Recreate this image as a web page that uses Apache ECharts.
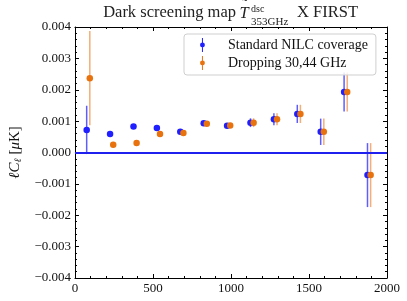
<!DOCTYPE html>
<html>
<head>
<meta charset="utf-8">
<script src="https://cdn.jsdelivr.net/npm/echarts@6/dist/echarts.min.js"></script>
<style>html,body{margin:0;padding:0;background:#fff}#c{width:407px;height:301px}</style>
</head>
<body>
<div id="c"></div>
<script>
// ---- data ----
const ellStd  = [75, 225, 375, 525, 675, 825, 975, 1125, 1275, 1425, 1575, 1725, 1875];
const ellDrop = [95, 245, 395, 545, 695, 845, 995, 1145, 1295, 1445, 1595, 1745, 1895];
const valStd  = [0.00072, 0.00059, 0.00083, 0.00078, 0.00066, 0.00093, 0.00085, 0.00095, 0.00106, 0.00123, 0.00066, 0.00193, -0.00072];
const errStd  = [0.00077, 0.00004, 0.00004, 0.00004, 0.00004, 0.00006, 0.00008, 0.00014, 0.00019, 0.00029, 0.00042, 0.00062, 0.00102];
const valDrop = [0.00237, 0.00025, 0.00030, 0.00059, 0.00062, 0.00092, 0.00086, 0.00095, 0.00106, 0.00123, 0.00066, 0.00193, -0.00072];
const errDrop = [0.00150, 0.00005, 0.00005, 0.00005, 0.00005, 0.00006, 0.00008, 0.00014, 0.00019, 0.00029, 0.00042, 0.00062, 0.00102];
const seriesNames = ['Standard NILC coverage', 'Dropping 30,44 GHz'];
const xTicks = [0, 500, 1000, 1500, 2000];
const yTicks = [-0.004, -0.003, -0.002, -0.001, 0, 0.001, 0.002, 0.003, 0.004];

const BLUE = '#1f1fff', BLUE_E = 'rgba(40,40,255,0.75)';
const ORANGE = '#e8720e', ORANGE_E = 'rgba(236,120,30,0.6)';
const FONT = 'Liberation Serif';

function pts(ell, val, err) { return ell.map((l, i) => [l, val[i], err[i]]); }
function errSeries(data, color) {
  return {
    type: 'custom', data: data, encode: {x: 0, y: 1}, silent: true, z: 2,
    renderItem: function (params, api) {
      const x = api.value(0), y = api.value(1), e = api.value(2);
      const p1 = api.coord([x, y - e]), p2 = api.coord([x, y + e]);
      return {type: 'line', shape: {x1: p1[0], y1: p1[1], x2: p2[0], y2: p2[1]},
              style: {stroke: color, lineWidth: 1.5}};
    }
  };
}
const ICON = 'path://M4.3,0 h1.4 v20 h-1.4 z M5,6.5 a3.5,3.5 0 1,1 0,7 a3.5,3.5 0 1,1 0,-7 z';
const fmtY = v => (v < 0 ? '\u2212' : '') + Math.abs(v).toFixed(3);
const fmtX = v => String(Math.round(v));

const axisCommon = {
  axisLine: {show: true, onZero: false, lineStyle: {color: '#000', width: 1}},
  axisTick: {show: true, inside: true, length: 4, lineStyle: {color: '#000'}},
  minorTick: {show: true, splitNumber: 5, length: 2, lineStyle: {color: '#000'}},
  splitLine: {show: false}
};

const chart = echarts.init(document.getElementById('c'), null, {renderer: 'canvas'});
chart.setOption({
  animation: false,
  backgroundColor: '#fff',
  grid: {left: 72, right: 20, top: 27, bottom: 23},
  xAxis: [
    Object.assign({type: 'value', min: xTicks[0], max: xTicks[xTicks.length - 1], interval: 500,
      axisLabel: {color: '#111', fontFamily: FONT, fontSize: 13, margin: 4, formatter: fmtX}}, axisCommon),
    Object.assign({type: 'value', position: 'top', min: xTicks[0], max: xTicks[xTicks.length - 1], interval: 500,
      axisLabel: {show: false}}, axisCommon)
  ],
  yAxis: [
    Object.assign({type: 'value', min: yTicks[0], max: yTicks[yTicks.length - 1], interval: 0.001,
      axisLabel: {color: '#111', fontFamily: FONT, fontSize: 13, margin: 4, formatter: fmtY},
      name: '{i|\u2113C}{s|\u2113} {n|[}{i|\u03bc}{n|K]}', nameLocation: 'middle', nameRotate: 90, nameGap: 39,
      nameTextStyle: {fontFamily: FONT, fontSize: 15, color: '#111',
        rich: {i: {fontFamily: FONT, fontSize: 15, fontStyle: 'italic', color: '#111'},
               n: {fontFamily: FONT, fontSize: 15, color: '#111'},
               s: {fontFamily: FONT, fontSize: 10, fontStyle: 'italic', color: '#111', verticalAlign: 'bottom', padding: [6, 0, 0, 0]}}}
    }, axisCommon),
    Object.assign({type: 'value', position: 'right', min: yTicks[0], max: yTicks[yTicks.length - 1], interval: 0.001,
      axisLabel: {show: false}}, axisCommon)
  ],
  legend: {
    orient: 'vertical', left: 184, top: 34,
    padding: [4, 8, 5, 16], itemGap: 4, itemWidth: 7, itemHeight: 14,
    backgroundColor: 'rgba(255,255,255,0.85)', borderColor: '#cfcfcf', borderWidth: 1, borderRadius: 3,
    textStyle: {fontFamily: FONT, fontSize: 14, color: '#111', padding: [0, 0, 0, 17], lineHeight: 14},
    data: [{name: seriesNames[0], icon: ICON}, {name: seriesNames[1], icon: ICON}]
  },
  graphic: [
    {type: 'text', style: {x: 236, y: 13, text: 'Dark screening map', textAlign: 'right', textVerticalAlign: 'middle', font: '16.5px "Liberation Serif"', fill: '#222'}},
    {type: 'text', style: {x: 244, y: 14, text: 'T', textAlign: 'center', textVerticalAlign: 'middle', font: 'italic 16.5px "Liberation Serif"', fill: '#222'}},
    {type: 'text', style: {x: 245, y: 5, text: '\u02dc', textAlign: 'center', textVerticalAlign: 'middle', font: '15px "Liberation Serif"', fill: '#222'}},
    {type: 'text', style: {x: 251, y: 9, text: 'dsc', textAlign: 'left', textVerticalAlign: 'middle', font: '10px "Liberation Serif"', fill: '#222'}},
    {type: 'text', style: {x: 251, y: 22, text: '353GHz', textAlign: 'left', textVerticalAlign: 'middle', font: '11px "Liberation Serif"', fill: '#222'}},
    {type: 'text', style: {x: 297, y: 13, text: 'X FIRST', textAlign: 'left', textVerticalAlign: 'middle', font: '16.5px "Liberation Serif"', fill: '#222'}}
  ],
  series: [
    errSeries(pts(ellStd, valStd, errStd), BLUE_E),
    errSeries(pts(ellDrop, valDrop, errDrop), ORANGE_E),
    {name: seriesNames[0], type: 'scatter', data: pts(ellStd, valStd, errStd), symbolSize: 6.5, z: 3,
     itemStyle: {color: BLUE, opacity: 1},
     markLine: {silent: true, symbol: 'none', label: {show: false},
       lineStyle: {color: '#2020ee', width: 2, type: 'solid'}, data: [{yAxis: 0}]}},
    {name: seriesNames[1], type: 'scatter', data: pts(ellDrop, valDrop, errDrop), symbolSize: 6.5, z: 3,
     itemStyle: {color: ORANGE, opacity: 1}}
  ]
});
</script>
</body>
</html>
